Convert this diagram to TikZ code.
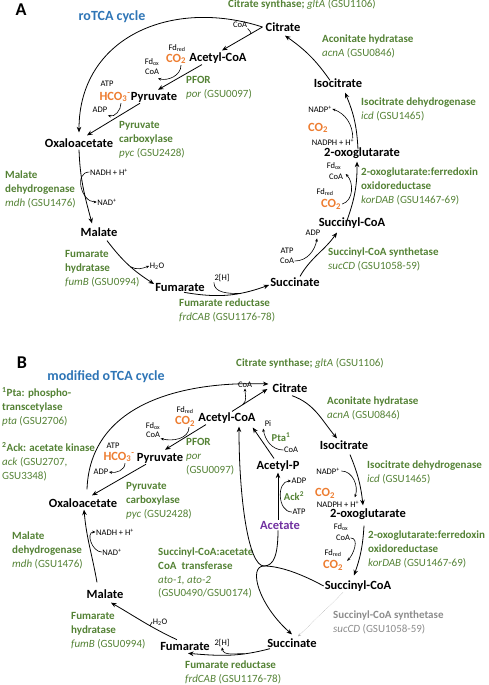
\documentclass[tikz,border=0pt]{standalone}
\usepackage{fontspec}
\setmainfont{Carlito}
\usetikzlibrary{arrows.meta,calc}
\definecolor{enzgreen}{HTML}{548235}
\definecolor{cotwo}{HTML}{ED7D31}
\definecolor{ttlblue}{HTML}{2E75B6}
\definecolor{acpurple}{HTML}{7030A0}
\definecolor{offgray}{HTML}{8C8C8C}

\tikzset{
  met/.style={font=\fontsize{12.5}{14}\selectfont\bfseries, inner sep=1pt},
  orn/.style={met, text=cotwo},
  cof/.style={font=\fontsize{8.5}{9}\selectfont, inner sep=0.5pt},
  enz/.style={font=\fontsize{11}{13.8}\selectfont, text=enzgreen, align=left, anchor=north west, inner sep=0pt},
  ttl/.style={font=\fontsize{14}{16}\selectfont\bfseries, text=ttlblue},
  pnl/.style={font=\fontsize{18}{20}\selectfont\bfseries},
  rxn/.style={-{Stealth[length=5.5pt,width=4.5pt]}, line width=0.8pt},
  aux/.style={-{Stealth[length=3.2pt,width=2.8pt]}, line width=0.6pt},
  auxplain/.style={line width=0.6pt},
}

\begin{document}
\begin{tikzpicture}[x=1pt,y=1pt]
\useasboundingbox (0,0) rectangle (488,-685);

% ---------- panel A: roTCA
\node[pnl] (labA) at (21,-10) {A};
\node[ttl] (ttlA) at (112,-17) {roTCA cycle};

\node[met] (citA) at (283,-27) {Citrate};
\node[met] (acoA) at (218,-58) {Acetyl-CoA};
\node[met] (pyrA) at (154,-97) {Pyruvate};
\node[met] (oaaA) at (79,-143) {Oxaloacetate};
\node[met] (malA) at (99,-232) {Malate};
\node[met] (fumA) at (180,-287) {Fumarate};
\node[met] (sucA) at (295,-282) {Succinate};
\node[met] (scoA) at (352,-223) {Succinyl-CoA};
\node[met] (ogA) at (362,-153) {2-oxoglutarate};
\node[met] (isoA) at (338,-83) {Isocitrate};

\node[orn] (co2aA) at (176,-59) {CO\textsubscript{2}};
\node[orn] (hcoA) at (115,-97) {HCO\textsubscript{3}\textsuperscript{-}};
\node[orn] (co2bA) at (318,-128) {CO\textsubscript{2}};
\node[orn] (co2cA) at (331,-204) {CO\textsubscript{2}};

\node[cof] (coaA1) at (240,-25) {CoA};
\node[cof] (fdrA1) at (177,-48) {Fd\textsubscript{red}};
\node[cof] (fdoA1) at (152,-62) {Fd\textsubscript{ox}};
\node[cof] (coaA2) at (152,-72) {CoA};
\node[cof] (atpA1) at (107,-84) {ATP};
\node[cof] (adpA1) at (100,-110) {ADP};
\node[cof] (nadhA) at (109,-172) {NADH + H\textsuperscript{+}};
\node[cof] (nadA) at (107,-202) {NAD\textsuperscript{+}};
\node[cof] (h2oA) at (157,-266) {H\textsubscript{2}O};
\node[cof] (hhA) at (222,-278) {2[H]};
\node[cof] (atpA2) at (287,-251) {ATP};
\node[cof] (coaA3) at (287,-261) {CoA};
\node[cof] (adpA2) at (313,-233) {ADP};
\node[cof] (fdrA2) at (325,-192) {Fd\textsubscript{red}};
\node[cof] (fdoA2) at (334,-166) {Fd\textsubscript{ox}};
\node[cof] (coaA4) at (336,-177) {CoA};
\node[cof] (nadphA) at (333,-142) {NADPH + H\textsuperscript{+}};
\node[cof] (nadpA) at (320,-109) {NADP\textsuperscript{+}};

\node[enz] (csynA) at (228,0.5) {\textbf{Citrate synthase;} \textit{gltA} (GSU1106)};
\node[enz] (acnlA) at (322,-34.5) {\textbf{Aconitate hydratase}\\\textit{acnA} (GSU0846)};
\node[enz] (icdlA) at (361,-97.5) {\textbf{Isocitrate dehydrogenase}\\\textit{icd} (GSU1465)};
\node[enz] (korlA) at (361,-167.5) {\textbf{2-oxoglutarate:ferredoxin}\\\textbf{oxidoreductase}\\\textit{korDAB} (GSU1467-69)};
\node[enz] (suclA) at (328,-247.5) {\textbf{Succinyl-CoA synthetase}\\\textit{sucCD} (GSU1058-59)};
\node[enz] (frdlA) at (179,-298.5) {\textbf{Fumarate reductase}\\\textit{frdCAB} (GSU1176-78)};
\node[enz] (fumlA) at (65,-250.5) {\textbf{Fumarate}\\\textbf{hydratase}\\\textit{fumB} (GSU0994)};
\node[enz] (mdhlA) at (5,-170.5) {\textbf{Malate}\\\textbf{dehydrogenase}\\\textit{mdh} (GSU1476)};
\node[enz] (pyclA) at (119,-121.5) {\textbf{Pyruvate}\\\textbf{carboxylase}\\\textit{pyc} (GSU2428)};
\node[enz] (porlA) at (186,-76.5) {\textbf{PFOR}\\\textit{por} (GSU0097)};

% citrate cleavage and the long arc back to oxaloacetate
\coordinate (vA) at ([xshift=-2pt]citA.west);
\draw[rxn] (vA) -- coordinate[pos=0.3] (jcsA) ([xshift=4pt,yshift=1pt]acoA.north);
\draw[auxplain] (coaA1.south east) to[out=-60,in=30] (jcsA);
\draw[rxn] (vA) to[out=162,in=90,looseness=1.15] ([yshift=5pt]oaaA.north);
% PFOR
\draw[rxn] ([xshift=-16pt]acoA.south) -- ([xshift=4pt,yshift=1pt]pyrA.north);
\draw[aux] ([xshift=5pt]co2aA.south) to[out=-90,in=-15] ([xshift=6pt,yshift=-3pt]coaA2.south);
% pyruvate carboxylase
\draw[rxn] ([xshift=-14pt]pyrA.south) -- ([xshift=8pt,yshift=2pt]oaaA.north);
\draw[aux] ([xshift=6pt]hcoA.south) to[out=-90,in=-15] ([yshift=-2pt]adpA1.south east);
% malate dehydrogenase
\draw[rxn] ([yshift=-1pt]oaaA.south) to[out=-88,in=105] ([xshift=-7pt,yshift=3pt]malA.north);
\draw[aux] (nadhA.west) to[out=180,in=180,looseness=1.3] (nadA.west);
% fumarate hydratase
\draw[rxn] ([xshift=8pt,yshift=-3pt]malA.south) to[bend right=10] coordinate[pos=0.55] (jfumA) ([yshift=3pt]fumA.west);
\draw[aux] (jfumA) to[out=-30,in=200] (h2oA.west);
% fumarate reductase
\draw[rxn] ([xshift=4pt]fumA.south) to[out=-10,in=200] coordinate[pos=0.65] (jfrdA) ([yshift=-3pt]sucA.west);
\draw[auxplain] (hhA.south west) to[out=-90,in=180] (jfrdA);
% succinyl-CoA synthetase
\draw[rxn] ([xshift=5pt]sucA.north) to[out=60,in=-125] ([xshift=-15pt,yshift=-3pt]scoA.south);
\draw[aux] (coaA3.east) to[out=0,in=-100] ([xshift=4pt,yshift=-2pt]adpA2.south);
% 2-oxoglutarate:ferredoxin oxidoreductase
\draw[rxn] ([xshift=-5pt,yshift=-4pt]scoA.north) to[bend right=10] ([xshift=-5pt,yshift=-2pt]ogA.south);
\draw[aux] (co2cA.east) to[out=15,in=-45] ([shift={(2pt,3pt)}]coaA4.east);
% isocitrate dehydrogenase
\draw[rxn] ([xshift=-4pt,yshift=-3pt]ogA.north) to[bend right=10] ([xshift=7pt,yshift=-4pt]isoA.south);
\draw[aux] ([xshift=-2pt]nadphA.north east) to[out=90,in=-20] (nadpA.east);
% aconitase
\draw[rxn] ([xshift=-8pt,yshift=-3pt]isoA.north) to[out=125,in=-35] ([xshift=2pt,yshift=-3pt]citA.south);

% ---------- panel B: modified oTCA
\node[pnl] (labB) at (22,-363) {B};
\node[ttl] (ttlB) at (106,-377) {modified oTCA cycle};

\node[met] (citB) at (290,-388) {Citrate};
\node[met] (acoB) at (227,-418) {Acetyl-CoA};
\node[met] (pyrB) at (160,-458) {Pyruvate};
\node[met] (oaaB) at (83,-503) {Oxaloacetate};
\node[met] (malB) at (105,-594) {Malate};
\node[met] (fumB) at (185,-646) {Fumarate};
\node[met] (sucB) at (292,-643) {Succinate};
\node[met] (scoB) at (358,-586) {Succinyl-CoA};
\node[met] (ogB) at (368,-514) {2-oxoglutarate};
\node[met] (isoB) at (344,-445) {Isocitrate};
\node[met] (acpB) at (278,-466) {Acetyl-P};
\node[met, text=acpurple] (actB) at (280,-525) {Acetate};

\node[orn] (co2aB) at (185,-421) {CO\textsubscript{2}};
\node[orn] (hcoB) at (119,-457) {HCO\textsubscript{3}\textsuperscript{-}};
\node[orn] (co2bB) at (325,-493) {CO\textsubscript{2}};
\node[orn] (co2cB) at (333,-565) {CO\textsubscript{2}};

\node[cof] (coaB1) at (245,-385) {CoA};
\node[cof] (fdrB1) at (185,-410) {Fd\textsubscript{red}};
\node[cof] (fdoB1) at (153,-426) {Fd\textsubscript{ox}};
\node[cof] (coaB2) at (153,-435) {CoA};
\node[cof] (atpB1) at (113,-446) {ATP};
\node[cof] (adpB1) at (101,-472) {ADP};
\node[cof] (nadhB) at (115,-532) {NADH + H\textsuperscript{+}};
\node[cof] (nadB) at (112,-552) {NAD\textsuperscript{+}};
\node[cof] (h2oB) at (160,-622) {H\textsubscript{2}O};
\node[cof] (hhB) at (222,-643) {2[H]};
\node[cof] (nadpB) at (328,-471) {NADP\textsuperscript{+}};
\node[cof] (nadphB) at (338,-504) {NADPH + H\textsuperscript{+}};
\node[cof] (fdoB2) at (341,-527) {Fd\textsubscript{ox}};
\node[cof] (coaB3) at (343,-538) {CoA};
\node[cof] (fdrB2) at (333,-553) {Fd\textsubscript{red}};
\node[cof] (piB) at (268,-424) {Pi};
\node[cof] (coaB4) at (291,-450) {CoA};
\node[cof] (adpB2) at (299,-481) {ADP};
\node[cof] (atpB2) at (299,-512) {ATP};
\node[font=\fontsize{10.5}{12}\selectfont\bfseries, text=enzgreen] (ptaB) at (281,-437) {Pta\textsuperscript{1}};
\node[font=\fontsize{10.5}{12}\selectfont\bfseries, text=enzgreen] (ackB) at (294,-496) {Ack\textsuperscript{2}};

\node[enz] (ptanote) at (2,-387.5) {\textbf{\textsuperscript{1}Pta: phospho-}\\\textbf{transcetylase}\\\textit{pta} (GSU2706)};
\node[enz] (acknote) at (2,-442.5) {\textbf{\textsuperscript{2}Ack: acetate kinase}\\\textit{ack} (GSU2707,\\GSU3348)};
\node[enz] (csynB) at (236,-358.5) {\textbf{Citrate synthase;} \textit{gltA} (GSU1106)};
\node[enz] (acnlB) at (327,-396.5) {\textbf{Aconitate hydratase}\\\textit{acnA} (GSU0846)};
\node[enz] (icdlB) at (367,-460.5) {\textbf{Isocitrate dehydrogenase}\\\textit{icd} (GSU1465)};
\node[enz] (korlB) at (368,-530.5) {\textbf{2-oxoglutarate:ferredoxin}\\\textbf{oxidoreductase}\\\textit{korDAB} (GSU1467-69)};
\node[enz, text=offgray] (suclB) at (333,-610.5) {\textbf{Succinyl-CoA synthetase}\\\textit{sucCD} (GSU1058-59)};
\node[enz] (frdlB) at (185,-660.5) {\textbf{Fumarate reductase}\\\textit{frdCAB} (GSU1176-78)};
\node[enz] (fumlB) at (71,-612.5) {\textbf{Fumarate}\\\textbf{hydratase}\\\textit{fumB} (GSU0994)};
\node[enz] (mdhlB) at (12,-531.5) {\textbf{Malate}\\\textbf{dehydrogenase}\\\textit{mdh} (GSU1476)};
\node[enz] (pyclB) at (126,-482.5) {\textbf{Pyruvate}\\\textbf{carboxylase}\\\textit{pyc} (GSU2428)};
\node[enz] (porlB) at (186,-438.5) {\textbf{PFOR}\\\textit{por}\\(GSU0097)};
\node[enz] (atolB) at (158,-547.5) {\textbf{Succinyl-CoA:acetate}\\\textbf{CoA\ \ transferase}\\\textit{ato-1, ato-2}\\(GSU0490/GSU0174)};

% citrate synthase and the long arc from oxaloacetate
\draw[rxn] ([xshift=4pt,yshift=8pt]oaaB.north) to[out=88,in=178,looseness=1.05] ([xshift=-3pt,yshift=4pt]citB.west);
\draw[rxn] ([xshift=5pt]acoB.north) -- coordinate[pos=0.3] (jcsB) ([xshift=-4pt,yshift=-1pt]citB.west);
\draw[aux] (jcsB) to[out=40,in=-90] (coaB1.south);
% PFOR
\draw[rxn] ([xshift=-21pt]acoB.south) -- ([xshift=5pt,yshift=2pt]pyrB.north);
\draw[aux] ([xshift=4pt]co2aB.south) to[out=-90,in=-15] (coaB2.south east);
% pyruvate carboxylase
\draw[rxn] ([xshift=-14pt]pyrB.south) -- ([xshift=9pt,yshift=2pt]oaaB.north);
\draw[aux] ([xshift=6pt]hcoB.south) to[out=-90,in=-10] (adpB1.east);
% malate dehydrogenase (oxidative)
\draw[rxn] ([xshift=-8pt,yshift=6pt]malB.north) to[out=100,in=-85] ([xshift=1pt,yshift=-1pt]oaaB.south);
\draw[aux] (nadB.west) to[out=180,in=180,looseness=1.2] (nadhB.west);
% fumarate hydratase
\draw[rxn] ([xshift=-8pt,yshift=1pt]fumB.north) to[out=155,in=-30] coordinate[pos=0.4] (jfumB) ([xshift=6pt,yshift=-3pt]malB.south);
\draw[auxplain] (h2oB.west) to[out=200,in=-30] (jfumB);
% succinate dehydrogenase direction
\draw[rxn] ([xshift=-22pt]sucB.south) to[out=195,in=-5] coordinate[pos=0.3] (jfrdB) ([xshift=3pt,yshift=-2pt]fumB.south);
\draw[aux] (jfrdB) to[out=175,in=-80] (hhB.south);
% succinyl-CoA synthetase, not used
\draw[-{Stealth[length=3pt,width=2.6pt]}, offgray!70, line width=0.5pt, densely dotted] ([xshift=-15pt]scoB.south) -- ([xshift=6pt,yshift=1pt]sucB.north);
% aconitase
\draw[rxn] ([xshift=2pt,yshift=-2pt]citB.south) to[out=-20,in=130] ([xshift=-7pt,yshift=1pt]isoB.north);
% isocitrate dehydrogenase
\draw[rxn] ([xshift=6pt,yshift=-4pt]isoB.south) to[bend left=8] ([xshift=-5pt,yshift=2pt]ogB.north);
\draw[aux] ([xshift=1pt]nadpB.east) to[out=0,in=70] ([xshift=-5pt,yshift=3pt]nadphB.north east);
% 2-oxoglutarate:ferredoxin oxidoreductase
\draw[rxn] ([xshift=-4pt,yshift=-5pt]ogB.south) to[bend left=8] ([xshift=-4pt,yshift=4pt]scoB.north);
\draw[aux] (coaB3.east) to[out=0,in=45] ([xshift=3pt,yshift=-2pt]co2cB.north east);
% acetate activation
\draw[rxn] ([xshift=-2pt]actB.north) -- (acpB.south);
\draw[aux] (atpB2.west) to[out=180,in=180,looseness=1.2] (adpB2.west);
\draw[rxn] ([xshift=-4pt,yshift=1pt]acpB.north) -- ([xshift=-4pt,yshift=-3pt]acoB.south east);
\draw[aux] (coaB4.west) to[out=180,in=-80] ([xshift=-1pt,yshift=-1pt]piB.south west);
% CoA transferase
\coordinate (jB) at (264,-566);
\draw[rxn] ([xshift=-2pt]actB.south) .. controls +(0,-24) and +(10,0) .. (jB) .. controls +(-16,0) and +(0,-70) .. ([xshift=12pt,yshift=-2pt]acoB.south);
\draw[rxn] (scoB.west) .. controls +(-22,12) and +(16,0) .. (jB) .. controls +(-16,0) and +(-34,30) .. ([yshift=3pt]sucB.north);
\end{tikzpicture}
\end{document}
